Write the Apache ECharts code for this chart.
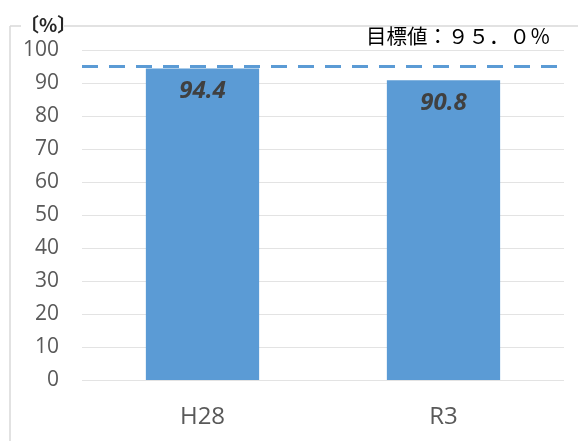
<!DOCTYPE html>
<html>
<head>
<meta charset="utf-8">
<script src="https://cdn.jsdelivr.net/npm/echarts@6/dist/echarts.min.js"></script>
<style>
  html, body { margin: 0; padding: 0; background: #fff; }
  #chart { width: 578px; height: 441px; }
</style>
</head>
<body>
<div id="chart"></div>
<script>
// Survey years and achievement rate (%)
const categories = ['H28', 'R3'];
const rates = [94.4, 90.8];
const targetRate = 95.0;
const targetLabel = '目標値：９５．０％';
const unitLabel = '〔%〕';

const BAR_BLUE = '#5b9bd5';
const FONT = '"Noto Sans CJK JP", "Noto Sans", sans-serif';
const NUM_FONT = '"Open Sans", "Noto Sans", sans-serif';

const chart = echarts.init(document.getElementById('chart'), null, { renderer: 'canvas' });

chart.setOption({
  animation: false,
  backgroundColor: '#ffffff',
  grid: { left: 82, right: 14, top: 50, bottom: 61 },
  xAxis: {
    type: 'category',
    data: categories,
    axisLine: { show: false },
    axisTick: { show: false },
    axisLabel: { color: '#595959', fontSize: 24, fontFamily: NUM_FONT, margin: 25 }
  },
  yAxis: {
    type: 'value',
    min: 0,
    max: 100,
    interval: 10,
    axisLine: { show: false },
    axisTick: { show: false },
    axisLabel: { color: '#595959', fontSize: 21, fontFamily: NUM_FONT, margin: 23 },
    splitLine: { lineStyle: { color: '#e3e3e3', width: 1 } }
  },
  series: [{
    type: 'bar',
    data: rates,
    barWidth: '47%',
    itemStyle: { color: BAR_BLUE },
    label: {
      show: true,
      position: 'insideTop',
      distance: 11,
      color: '#404040',
      fontSize: 24,
      fontWeight: 'bold',
      fontStyle: 'italic',
      fontFamily: NUM_FONT,
      formatter: p => p.value.toFixed(1)
    },
    markLine: {
      silent: true,
      symbol: 'none',
      label: { show: false },
      lineStyle: { color: BAR_BLUE, type: [16, 11], width: 3 },
      data: [{ yAxis: targetRate }]
    }
  }],
  graphic: [
    // outer frame (left edge and top edge, broken by the unit label)
    { type: 'line', shape: { x1: 10, y1: 26, x2: 10, y2: 441 }, style: { stroke: '#d9d9d9', lineWidth: 1.5 } },
    { type: 'line', shape: { x1: 10, y1: 26, x2: 21, y2: 26 }, style: { stroke: '#d9d9d9', lineWidth: 1.5 } },
    { type: 'line', shape: { x1: 64, y1: 26, x2: 578, y2: 26 }, style: { stroke: '#d9d9d9', lineWidth: 1.5 } },
    {
      type: 'text', left: 20, top: 15,
      style: { text: unitLabel, fill: '#262626', font: 'bold 19px ' + FONT }
    },
    {
      type: 'text', left: 366, top: 26,
      style: { text: targetLabel, fill: '#000000', font: '20.5px ' + FONT }
    }
  ]
});
</script>
</body>
</html>
